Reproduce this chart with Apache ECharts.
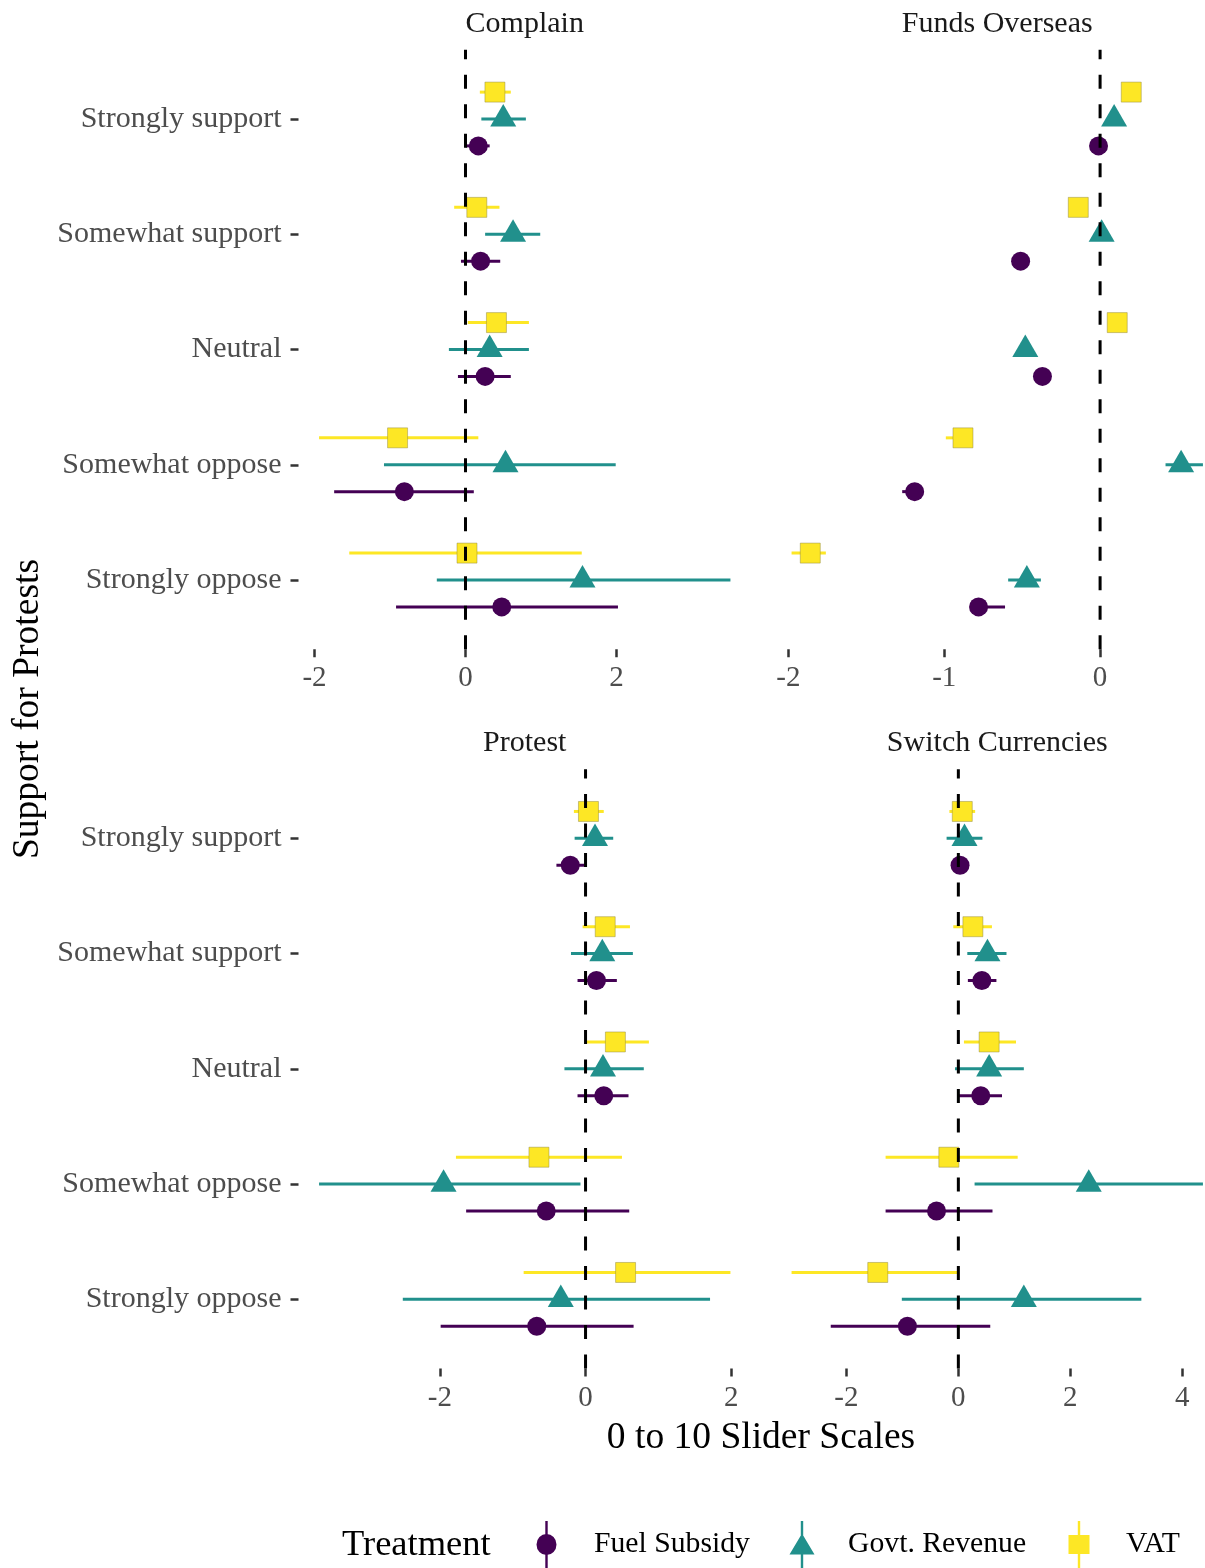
<!DOCTYPE html>
<html>
<head>
<meta charset="utf-8">
<title>Support for Protests</title>
<script src="https://cdn.jsdelivr.net/npm/echarts@6/dist/echarts.min.js"></script>
<style>
  html, body { margin: 0; padding: 0; background: #ffffff; }
  #chart { width: 1205px; height: 1568px; }
</style>
</head>
<body>
<div id="chart"></div>
<script>
// Response levels, top to bottom
const levels = ['Strongly support', 'Somewhat support', 'Neutral', 'Somewhat oppose', 'Strongly oppose'];
const treatments = ['Fuel Subsidy', 'Govt. Revenue', 'VAT'];
const facets = ['Complain', 'Funds Overseas', 'Protest', 'Switch Currencies'];

// Tick values per facet
const complainTicks = [-2, 0, 2];
const fundsTicks = [-2, -1, 0];
const protestTicks = [-2, 0, 2];
const switchTicks = [-2, 0, 2, 4];

// [estimate, lower, upper] for each level, in the order of `levels`
const complainFuel = [[0.17, 0.00, 0.32], [0.20, -0.06, 0.46], [0.26, -0.10, 0.60], [-0.81, -1.74, 0.11], [0.48, -0.92, 2.02]];
const complainGovt = [[0.50, 0.21, 0.80], [0.63, 0.26, 0.99], [0.32, -0.22, 0.84], [0.53, -1.08, 1.99], [1.55, -0.38, 3.51]];
const complainVat  = [[0.39, 0.19, 0.60], [0.15, -0.15, 0.45], [0.41, 0.03, 0.84], [-0.90, -1.94, 0.17], [0.02, -1.54, 1.54]];

const fundsFuel = [[-0.01, -0.04, 0.02], [-0.51, -0.54, -0.48], [-0.37, -0.40, -0.34], [-1.19, -1.27, -1.14], [-0.78, -0.83, -0.61]];
const fundsGovt = [[0.09, 0.06, 0.12], [0.01, -0.02, 0.04], [-0.48, -0.51, -0.45], [0.52, 0.42, 0.66], [-0.47, -0.59, -0.38]];
const fundsVat  = [[0.20, 0.17, 0.23], [-0.14, -0.17, -0.11], [0.11, 0.08, 0.14], [-0.88, -0.99, -0.82], [-1.86, -1.98, -1.76]];

const protestFuel = [[-0.21, -0.40, -0.01], [0.15, -0.11, 0.43], [0.25, -0.11, 0.59], [-0.54, -1.64, 0.60], [-0.67, -1.99, 0.66]];
const protestGovt = [[0.13, -0.15, 0.38], [0.23, -0.20, 0.65], [0.24, -0.29, 0.80], [-1.95, -3.66, -0.07], [-0.34, -2.51, 1.71]];
const protestVat  = [[0.04, -0.16, 0.25], [0.27, -0.04, 0.61], [0.41, 0.02, 0.87], [-0.64, -1.78, 0.50], [0.55, -0.85, 1.99]];

const switchFuel = [[0.03, -0.05, 0.09], [0.42, 0.17, 0.68], [0.40, 0.01, 0.78], [-0.39, -1.30, 0.61], [-0.91, -2.28, 0.57]];
const switchGovt = [[0.11, -0.21, 0.43], [0.52, 0.16, 0.86], [0.55, -0.06, 1.17], [2.33, 0.29, 4.37], [1.17, -1.01, 3.27]];
const switchVat  = [[0.07, -0.16, 0.30], [0.26, -0.09, 0.60], [0.55, 0.10, 1.03], [-0.17, -1.30, 1.06], [-1.44, -2.98, -0.01]];

// ---- assembly ----
const facetData = [
  [complainFuel, complainGovt, complainVat],
  [fundsFuel, fundsGovt, fundsVat],
  [protestFuel, protestGovt, protestVat],
  [switchFuel, switchGovt, switchVat]
];
const facetTicks = [complainTicks, fundsTicks, protestTicks, switchTicks];

const FONT = 'Liberation Serif';
const colors = ['#440154', '#21908C', '#FDE725'];
const dodge = [0.7 / 3, 0, -0.7 / 3];
const symbols = ['circle', 'triangle', 'rect'];
const symbolSizes = [19, [26, 22.5], 20];
const symbolOffsets = [[0, 0], [0, -3.7], [0, 0]];

// Every panel spans PANEL_W pixels; the right-hand column runs off the page edge,
// so its visible grid is narrower and its axis is cut at the page edge.
const PANEL_W = 452.5;
const PAGE_W = 1205;
const grids = [
  { left: 298.5, top: 49.85, width: PANEL_W, height: 599.3 },
  { left: 771,   top: 49.85, width: PAGE_W - 771, height: 599.3 },
  { left: 298.5, top: 769.2, width: PANEL_W, height: 599.3 },
  { left: 771,   top: 769.2, width: PAGE_W - 771, height: 599.3 }
];

const Y_MIN = 0.4, Y_MAX = 5.6;

function xRange(sets) {
  let lo = Infinity, hi = -Infinity;
  sets.forEach(rows => rows.forEach(r => { lo = Math.min(lo, r[1]); hi = Math.max(hi, r[2]); }));
  const pad = (hi - lo) * 0.05;
  return [lo - pad, hi + pad];
}

const xAxes = [], yAxes = [], series = [], graphics = [];

facets.forEach((facet, i) => {
  const g = grids[i];
  const [xmin, xmaxFull] = xRange(facetData[i]);
  const xmax = xmin + (xmaxFull - xmin) * (g.width / PANEL_W);
  const isLeft = (i % 2 === 0);
  xAxes.push({
    type: 'value', gridIndex: i, min: xmin, max: xmax,
    axisLine: { show: false, onZero: false },
    splitLine: { show: false },
    axisTick: { show: true, length: 8, customValues: facetTicks[i], lineStyle: { color: '#333333', width: 2.5 } },
    axisLabel: { customValues: facetTicks[i], margin: 15, color: '#4D4D4D', fontFamily: FONT, fontSize: 29 }
  });
  yAxes.push({
    type: 'value', gridIndex: i, min: Y_MIN, max: Y_MAX, inverse: true,
    axisLine: { show: false, onZero: false },
    splitLine: { show: false },
    axisTick: { show: isLeft, length: 8, customValues: [1, 2, 3, 4, 5], lineStyle: { color: '#333333', width: 2.5 } },
    axisLabel: {
      show: isLeft, customValues: [1, 2, 3, 4, 5], margin: 17,
      color: '#4D4D4D', fontFamily: FONT, fontSize: 30, padding: [5, 0, 0, 0],
      formatter: v => levels[Math.round(v) - 1] || ''
    }
  });

  facetData[i].forEach((rows, j) => {
    const color = colors[j];
    // horizontal interval bars
    series.push({
      type: 'custom', name: treatments[j], xAxisIndex: i, yAxisIndex: i, z: 2,
      itemStyle: { color: color },
      encode: { x: [0, 1], y: 2 },
      data: rows.map((r, k) => [r[1], r[2], k + 1 + dodge[j]]),
      renderItem: (params, api) => {
        const a = api.coord([api.value(0), api.value(2)]);
        const b = api.coord([api.value(1), api.value(2)]);
        return {
          type: 'line',
          shape: { x1: a[0], y1: a[1], x2: b[0], y2: b[1] },
          style: { stroke: color, lineWidth: 3 }
        };
      }
    });
    // point estimates
    series.push({
      type: 'scatter', name: treatments[j], xAxisIndex: i, yAxisIndex: i, z: 3,
      symbol: symbols[j], symbolSize: symbolSizes[j], symbolOffset: symbolOffsets[j],
      itemStyle: j === 2
        ? { color: color, opacity: 1, borderColor: 'rgba(140,130,60,0.45)', borderWidth: 1 }
        : { color: color, opacity: 1 },
      emphasis: { disabled: true },
      data: rows.map((r, k) => [r[0], k + 1 + dodge[j]])
    });
  });

  // dashed reference line at zero
  series.push({
    type: 'custom', name: 'zero-' + i, xAxisIndex: i, yAxisIndex: i, z: 5,
    encode: { x: 0, y: 1 },
    data: [[0, 3]],
    renderItem: (params, api) => {
      const bottom = api.coord([0, Y_MAX]);
      const top = api.coord([0, Y_MIN]);
      return {
        type: 'line',
        shape: { x1: bottom[0], y1: bottom[1], x2: top[0], y2: top[1] },
        style: { stroke: '#000000', lineWidth: 3, lineDash: [14, 15.5] }
      };
    }
  });

  // facet strip label, centred over the full panel width
  graphics.push({
    type: 'text', x: g.left + PANEL_W / 2, y: g.top - 26,
    style: { text: facet, fontFamily: FONT, fontSize: 30, fill: '#1A1A1A', textAlign: 'center', textVerticalAlign: 'middle' }
  });
});

// axis titles
graphics.push({
  type: 'text', x: 761, y: 1438,
  style: { text: '0 to 10 Slider Scales', fontFamily: FONT, fontSize: 37.5, fill: '#000000', textAlign: 'center', textVerticalAlign: 'middle' }
});
graphics.push({
  type: 'text', x: 28, y: 709, rotation: Math.PI / 2,
  style: { text: 'Support for Protests', fontFamily: FONT, fontSize: 37.5, fill: '#000000', textAlign: 'center', textVerticalAlign: 'middle' }
});
// legend title
graphics.push({
  type: 'text', x: 342, y: 1545,
  style: { text: 'Treatment', fontFamily: FONT, fontSize: 36.5, fill: '#000000', textAlign: 'left', textVerticalAlign: 'middle' }
});

// legend keys: vertical interval line with the marker on it
const keyCircle = 'path://M8.8,0H11.2V47H8.8Z M0,23.5A10,10.5 0 1,1 20,23.5A10,10.5 0 1,1 0,23.5Z';
const keyTriangle = 'path://M11.3,0H13.7V47H11.3Z M12.5,12.5L25,33.5L0,33.5Z';
const keySquare = 'path://M9.3,0H11.7V47H9.3Z M0,14H21V33H0Z';

const legendText = { fontFamily: FONT, fontSize: 29.7, color: '#000000' };
const legends = [
  { left: 536.5, itemWidth: 20, pad: 32.5, name: 'Fuel Subsidy', icon: keyCircle },
  { left: 789.5, itemWidth: 25, pad: 28.5, name: 'Govt. Revenue', icon: keyTriangle },
  { left: 1068.5, itemWidth: 21, pad: 31.5, name: 'VAT', icon: keySquare }
].map(l => ({
  show: true, orient: 'horizontal', left: l.left, top: 1521, padding: 0,
  itemWidth: l.itemWidth, itemHeight: 47, selectedMode: false,
  data: [{ name: l.name, icon: l.icon }],
  textStyle: Object.assign({ padding: [3, 0, 0, l.pad] }, legendText)
}));

const chart = echarts.init(document.getElementById('chart'), null, { renderer: 'canvas' });
chart.setOption({
  backgroundColor: '#ffffff',
  animation: false,
  textStyle: { fontFamily: FONT },
  grid: grids.map(g => Object.assign({ containLabel: false }, g)),
  xAxis: xAxes,
  yAxis: yAxes,
  legend: legends,
  series: series,
  graphic: graphics
});
</script>
</body>
</html>
